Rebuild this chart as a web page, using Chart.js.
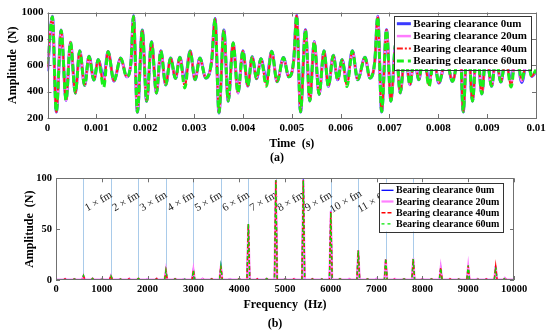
<!DOCTYPE html>
<html>
<head>
<meta charset="utf-8">
<script src="https://cdn.jsdelivr.net/npm/chart.js@4.4.1/dist/chart.umd.min.js"></script>
<style>
  html, body { margin: 0; padding: 0; background: #fff; }
  #wrap { position: relative; width: 550px; height: 335px; overflow: hidden; }
  .panel { position: absolute; left: 0; width: 550px; }
  #timePanel { top: 0; height: 155px; }
  #specPanel { top: 160px; height: 156px; }
  .caption { position: absolute; font: bold 12px 'Liberation Serif', 'Times New Roman', serif; color: #000; transform: translate(-50%, -50%); white-space: nowrap; }
</style>
</head>
<body>
<div id="wrap">
  <div class="panel" id="timePanel"><canvas id="timeChart"></canvas></div>
  <div class="panel" id="specPanel"><canvas id="specChart"></canvas></div>
  <div class="caption" style="left:277px; top:157px">(a)</div>
  <div class="caption" style="left:275px; top:323px">(b)</div>
</div>
<script>
// series names (same for both panels)
const seriesNames = ['Bearing clearance 0um', 'Bearing clearance 20um', 'Bearing clearance 40um', 'Bearing clearance 60um'];

// (a) time signal, extrema (time in ms, force in N)
const timeMs = [
  0, 0.10, 0.18, 0.28, 0.38, 0.47, 0.57, 0.66, 0.76, 0.85, 0.95, 1.04, 1.15, 1.24, 1.36, 1.50, 1.62, 1.71,
  1.76, 1.84, 1.94, 2.03, 2.13, 2.23, 2.32, 2.42, 2.52, 2.62, 2.71, 2.81, 2.92, 3.02, 3.12, 3.24, 3.36,
  3.43, 3.51, 3.61, 3.70, 3.80, 3.90, 4.00, 4.10, 4.19, 4.28, 4.37, 4.48, 4.59, 4.70, 4.83, 4.94, 5.04,
  5.10, 5.18, 5.28, 5.37, 5.46, 5.56, 5.66, 5.75, 5.85, 5.94, 6.03, 6.13, 6.24, 6.35, 6.50, 6.60, 6.70,
  6.76, 6.84, 6.94, 7.03, 7.13, 7.22, 7.32, 7.42, 7.51, 7.60, 7.70, 7.81, 7.91, 8.01, 8.16, 8.29, 8.37,
  8.43, 8.51, 8.60, 8.70, 8.79, 8.89, 8.98, 9.09, 9.18, 9.28, 9.38, 9.49, 9.59, 9.71, 9.82, 9.91, 10.00
];
const force0um = [
  555, 972, 245, 868, 332, 775, 388, 710, 447, 669, 488, 643, 505, 705, 480, 655, 512, 628,
  975, 243, 868, 325, 780, 388, 710, 450, 655, 500, 660, 480, 708, 490, 655, 503, 630,
  955, 238, 868, 327, 770, 390, 710, 442, 665, 498, 650, 488, 706, 475, 658, 512, 635,
  980, 245, 870, 329, 780, 378, 710, 440, 676, 490, 642, 478, 710, 490, 660, 503, 630,
  972, 246, 870, 327, 770, 390, 700, 453, 665, 490, 690, 478, 655, 465, 650, 478, 625,
  960, 245, 868, 327, 770, 382, 710, 440, 665, 473, 650, 478, 700, 470, 655, 515, 555
];
const force20um = [
  570, 970, 245, 866, 332, 776, 388, 710, 447, 668, 488, 643, 475, 704, 482, 654, 512, 628,
  972, 243, 866, 326, 778, 388, 709, 451, 655, 500, 659, 455, 707, 490, 654, 503, 630,
  953, 238, 866, 328, 770, 390, 709, 443, 664, 498, 650, 462, 705, 476, 657, 512, 634,
  978, 245, 868, 330, 778, 380, 709, 441, 675, 490, 642, 456, 709, 490, 659, 503, 630,
  970, 246, 868, 328, 769, 390, 700, 453, 664, 490, 689, 456, 655, 466, 650, 478, 625,
  958, 245, 866, 328, 769, 383, 709, 441, 664, 474, 650, 455, 699, 480, 655, 516, 560
];
const force40um = [
  585, 968, 245, 866, 332, 776, 388, 709, 447, 668, 488, 643, 455, 704, 482, 654, 512, 628,
  972, 243, 866, 326, 778, 388, 709, 451, 655, 500, 659, 440, 707, 490, 654, 503, 630,
  952, 238, 866, 328, 770, 390, 709, 443, 664, 498, 650, 450, 705, 476, 657, 512, 634,
  976, 245, 868, 330, 778, 380, 709, 441, 675, 490, 642, 447, 709, 490, 659, 503, 630,
  970, 246, 868, 328, 769, 390, 700, 453, 664, 490, 689, 448, 655, 466, 650, 478, 625,
  958, 245, 866, 328, 769, 383, 709, 441, 664, 474, 650, 445, 699, 488, 655, 517, 562
];
const force60um = [
  610, 965, 248, 864, 334, 774, 390, 708, 448, 667, 489, 642, 432, 703, 483, 653, 513, 630,
  970, 246, 864, 328, 776, 390, 708, 452, 654, 501, 658, 428, 706, 491, 653, 504, 631,
  950, 241, 864, 329, 768, 392, 708, 444, 663, 499, 649, 440, 704, 477, 656, 513, 636,
  975, 248, 866, 331, 776, 381, 708, 442, 674, 491, 641, 438, 708, 491, 658, 504, 631,
  968, 249, 866, 329, 768, 392, 699, 454, 663, 491, 688, 440, 654, 467, 649, 479, 626,
  956, 248, 864, 329, 768, 384, 708, 442, 663, 475, 649, 435, 698, 495, 654, 518, 565
];

// (b) spectrum: harmonic peaks per series, small sideband bumps shared by all series
const harmonicHz = [600, 1200, 1800, 2400, 3000, 3600, 4200, 4800, 5400, 6000, 6600, 7200, 7800, 8400, 9000, 9600];
const amp0um  = [4.5, 4.0, 1.5, 9.0, 10.5, 13.5, 54.0, 97.0, 99.0, 68.0, 29.0, 20.0, 20.5, 12.5, 11.0, 14.0];
const amp20um = [4.0, 4.0, 1.5, 9.5, 10.0, 14.0, 54.5, 98.0, 98.5, 67.5, 29.5, 20.5, 21.0, 12.0, 13.5, 14.0];
const amp40um = [4.0, 4.5, 1.5, 9.0, 10.0, 14.0, 55.0, 98.0, 98.0, 67.0, 29.0, 21.0, 20.5, 12.0, 14.0, 13.5];
const amp60um = [4.5, 4.0, 1.5, 9.5, 9.5, 13.5, 55.5, 98.0, 98.0, 66.5, 29.0, 21.5, 20.5, 11.5, 14.5, 12.5];
const sidebandHz = [200, 400, 800, 1000, 1400, 1600, 2000, 2200, 2600, 2800, 3200, 3400, 3800, 4000, 4400, 4600,
  5000, 5200, 5600, 5800, 6200, 6400, 6800, 7000, 7400, 7600, 8000, 8200, 8600, 8800, 9200, 9400, 9800];
const sidebandAmp = [1.2, 1.0, 1.5, 1.2, 1.0, 1.3, 1.0, 1.4, 1.2, 1.0, 1.3, 1.1, 1.0, 1.2, 1.1, 1.3,
  1.0, 1.2, 1.1, 1.0, 1.2, 1.1, 1.0, 1.3, 1.1, 1.0, 1.2, 1.0, 1.1, 1.0, 1.2, 1.0, 2.0];
const noiseFloor = 0.3;
const spikeHalfWidthHz = 30;

// mesh frequency marker lines and their labels
const markerHz = [600, 1200, 1800, 2400, 3000, 3600, 4200, 4800, 5400, 6000, 6600, 7200, 7800];
const markerLabels = ['1 × fm', '2 × fm', '3 × fm', '4 × fm', '5 × fm', '6 × fm', '7 × fm', '8 × fm', '9 × fm', '10 × fm', '11 × fm'];

const SERIF = "'Liberation Serif', 'Times New Roman', serif";

// build {x,y} list for one spectrum series
function spectrumPoints(peaks) {
  const pts = [{x: 0, y: noiseFloor}, {x: 10000, y: noiseFloor}];
  const addSpike = (f, a) => {
    pts.push({x: f - spikeHalfWidthHz, y: noiseFloor}, {x: f, y: a}, {x: f + spikeHalfWidthHz, y: noiseFloor});
  };
  harmonicHz.forEach((f, i) => addSpike(f, peaks[i]));
  sidebandHz.forEach((f, i) => addSpike(f, sidebandAmp[i]));
  return pts.sort((a, b) => a.x - b.x);
}

// box + inward ticks on all four sides (MATLAB look)
const frameTicks = {
  id: 'frameTicks',
  afterDatasetsDraw(chart, args, opts) {
    const {ctx, chartArea: a, scales: {x, y}} = chart;
    const len = opts.len || 4;
    ctx.save();
    ctx.strokeStyle = opts.color || '#707070';
    ctx.lineWidth = 1;
    ctx.strokeRect(Math.round(a.left) + 0.5, Math.round(a.top) + 0.5, Math.round(a.width) - 1, Math.round(a.height) - 1);
    ctx.beginPath();
    x.ticks.forEach(t => {
      const px = Math.round(x.getPixelForValue(t.value)) + 0.5;
      ctx.moveTo(px, a.bottom); ctx.lineTo(px, a.bottom - len);
      ctx.moveTo(px, a.top); ctx.lineTo(px, a.top + len);
    });
    y.ticks.forEach(t => {
      const py = Math.round(y.getPixelForValue(t.value)) + 0.5;
      ctx.moveTo(a.left, py); ctx.lineTo(a.left + len, py);
      ctx.moveTo(a.right, py); ctx.lineTo(a.right - len, py);
    });
    ctx.stroke();
    ctx.restore();
  }
};

// legend box inside the plot, top right
const boxLegend = {
  id: 'boxLegend',
  afterDraw(chart, args, opts) {
    const {ctx, chartArea: a} = chart;
    ctx.save();
    ctx.font = `bold ${opts.fontSize}px ${SERIF}`;
    const textW = Math.max(...seriesNames.map(s => ctx.measureText(s).width));
    const w = textW + opts.sampleLen + 9;
    const h = seriesNames.length * opts.rowH + 4;
    const x0 = a.right - opts.dx - w;
    const y0 = a.top + opts.dy;
    ctx.fillStyle = '#fff';
    ctx.fillRect(x0, y0, w, h);
    ctx.strokeStyle = '#333';
    ctx.lineWidth = 1;
    ctx.strokeRect(Math.round(x0) + 0.5, Math.round(y0) + 0.5, Math.round(w), Math.round(h));
    chart.data.datasets.forEach((ds, i) => {
      const yy = y0 + 2 + opts.rowH * (i + 0.5);
      ctx.beginPath();
      ctx.strokeStyle = ds.borderColor;
      ctx.lineWidth = ds.borderWidth;
      ctx.setLineDash(ds.borderDash || []);
      ctx.moveTo(x0 + 2.5, yy);
      ctx.lineTo(x0 + 2.5 + opts.sampleLen, yy);
      ctx.stroke();
      ctx.setLineDash([]);
      ctx.fillStyle = '#000';
      ctx.textBaseline = 'middle';
      ctx.textAlign = 'left';
      ctx.fillText(seriesNames[i], x0 + opts.sampleLen + 5, yy + 0.5);
    });
    ctx.restore();
  }
};

// vertical fm lines and rotated labels
const fmMarkers = {
  id: 'fmMarkers',
  beforeDatasetsDraw(chart, args, opts) {
    const {ctx, chartArea: a, scales: {x, y}} = chart;
    ctx.save();
    ctx.strokeStyle = '#a9cbea';
    ctx.lineWidth = 1;
    ctx.beginPath();
    markerHz.forEach(f => {
      const px = Math.round(x.getPixelForValue(f)) + 0.5;
      ctx.moveTo(px, a.top); ctx.lineTo(px, a.bottom);
    });
    ctx.stroke();
    ctx.fillStyle = '#1a1a1a';
    ctx.font = `${opts.fontSize}px ${SERIF}`;
    ctx.textAlign = 'center';
    ctx.textBaseline = 'middle';
    markerLabels.forEach((lbl, i) => {
      ctx.save();
      ctx.translate(x.getPixelForValue(markerHz[i] + opts.offsetHz), y.getPixelForValue(opts.level));
      ctx.rotate(-opts.angle * Math.PI / 180);
      ctx.fillText(lbl, 0, 0);
      ctx.restore();
    });
    ctx.restore();
  }
};

const tickFont = {family: SERIF, size: 11, weight: 'bold'};
const titleFont = {family: SERIF, size: 12, weight: 'bold'};

// ---- (a) time domain ----
const timeSeries = [force0um, force20um, force40um, force60um];
const timeStyles = [
  {borderColor: '#3a3aff', borderWidth: 3, borderDash: [], order: 3},
  {borderColor: '#ff7bff', borderWidth: 2.5, borderDash: [], order: 2},
  {borderColor: '#ff1a1a', borderWidth: 2, borderDash: [6, 2, 2, 2], order: 1},
  {borderColor: '#19f019', borderWidth: 3, borderDash: [7, 4], order: 0}
];

new Chart(document.getElementById('timeChart'), {
  type: 'line',
  data: {
    datasets: timeSeries.map((vals, i) => ({
      label: seriesNames[i],
      data: timeMs.map((t, k) => ({x: t, y: vals[k]})),
      cubicInterpolationMode: 'monotone',
      pointRadius: 0,
      fill: false,
      ...timeStyles[i]
    }))
  },
  options: {
    animation: false,
    responsive: true,
    maintainAspectRatio: false,
    events: [],
    layout: {padding: {top: 12.5, right: 14, left: 0, bottom: 0}},
    plugins: {
      legend: {display: false},
      tooltip: {enabled: false},
      frameTicks: {len: 4},
      boxLegend: {fontSize: 11, rowH: 12.4, sampleLen: 14, dx: 5, dy: 3}
    },
    scales: {
      x: {
        type: 'linear', min: 0, max: 10,
        grid: {display: false, drawTicks: false},
        border: {display: false},
        ticks: {stepSize: 1, color: '#000', font: tickFont, padding: 4, maxRotation: 0, autoSkip: false,
          callback: v => v === 0 ? '0' : String(+(v / 1000).toFixed(3))},
        title: {display: true, text: 'Time  (s)', color: '#000', font: titleFont, padding: {top: 0, bottom: 4}},
        afterFit: s => { s.height = 37; }
      },
      y: {
        type: 'linear', min: 200, max: 1000,
        grid: {display: false, drawTicks: false},
        border: {display: false},
        ticks: {stepSize: 200, color: '#000', font: tickFont, padding: 4, callback: v => String(v)},
        title: {display: true, text: 'Amplitude  (N)', color: '#000', font: titleFont, padding: {top: 6, bottom: 0}},
        afterFit: s => { s.width = 47.5; }
      }
    }
  },
  plugins: [frameTicks, boxLegend]
});

// ---- (b) spectrum ----
const specSeries = [amp0um, amp20um, amp40um, amp60um];
const specStyles = [
  {borderColor: '#0000ff', borderWidth: 1.3, borderDash: [], order: 3},
  {borderColor: '#ff80ff', borderWidth: 2.2, borderDash: [], order: 2},
  {borderColor: '#ff0000', borderWidth: 1.5, borderDash: [4, 2], order: 1},
  {borderColor: '#00e600', borderWidth: 1.3, borderDash: [3, 3], order: 0}
];

new Chart(document.getElementById('specChart'), {
  type: 'line',
  data: {
    datasets: specSeries.map((peaks, i) => ({
      label: seriesNames[i],
      data: spectrumPoints(peaks),
      tension: 0,
      pointRadius: 0,
      fill: false,
      ...specStyles[i]
    }))
  },
  options: {
    animation: false,
    responsive: true,
    maintainAspectRatio: false,
    events: [],
    layout: {padding: {top: 18.3, right: 36, left: 0, bottom: 0}},
    plugins: {
      legend: {display: false},
      tooltip: {enabled: false},
      frameTicks: {len: 4},
      boxLegend: {fontSize: 10, rowH: 11.2, sampleLen: 12, dx: 10.7, dy: 4.4},
      fmMarkers: {fontSize: 11, offsetHz: 330, level: 77, angle: 30}
    },
    scales: {
      x: {
        type: 'linear', min: 0, max: 10000,
        grid: {display: false, drawTicks: false},
        border: {display: false},
        ticks: {stepSize: 1000, color: '#000', font: {family: SERIF, size: 10.5, weight: 'bold'}, padding: 3, maxRotation: 0, autoSkip: false,
          callback: v => String(v)},
        title: {display: true, text: 'Frequency  (Hz)', color: '#000', font: titleFont, padding: {top: 0, bottom: 4}},
        afterFit: s => { s.height = 36; }
      },
      y: {
        type: 'linear', min: 0, max: 100,
        grid: {display: false, drawTicks: false},
        border: {display: false},
        ticks: {stepSize: 50, color: '#000', font: {family: SERIF, size: 10.5, weight: 'bold'}, padding: 4, callback: v => String(v)},
        title: {display: true, text: 'Amplitude  (N)', color: '#000', font: titleFont, padding: {top: 22.8, bottom: 0}},
        afterFit: s => { s.width = 56; }
      }
    }
  },
  plugins: [frameTicks, fmMarkers, boxLegend]
});
</script>
</body>
</html>
